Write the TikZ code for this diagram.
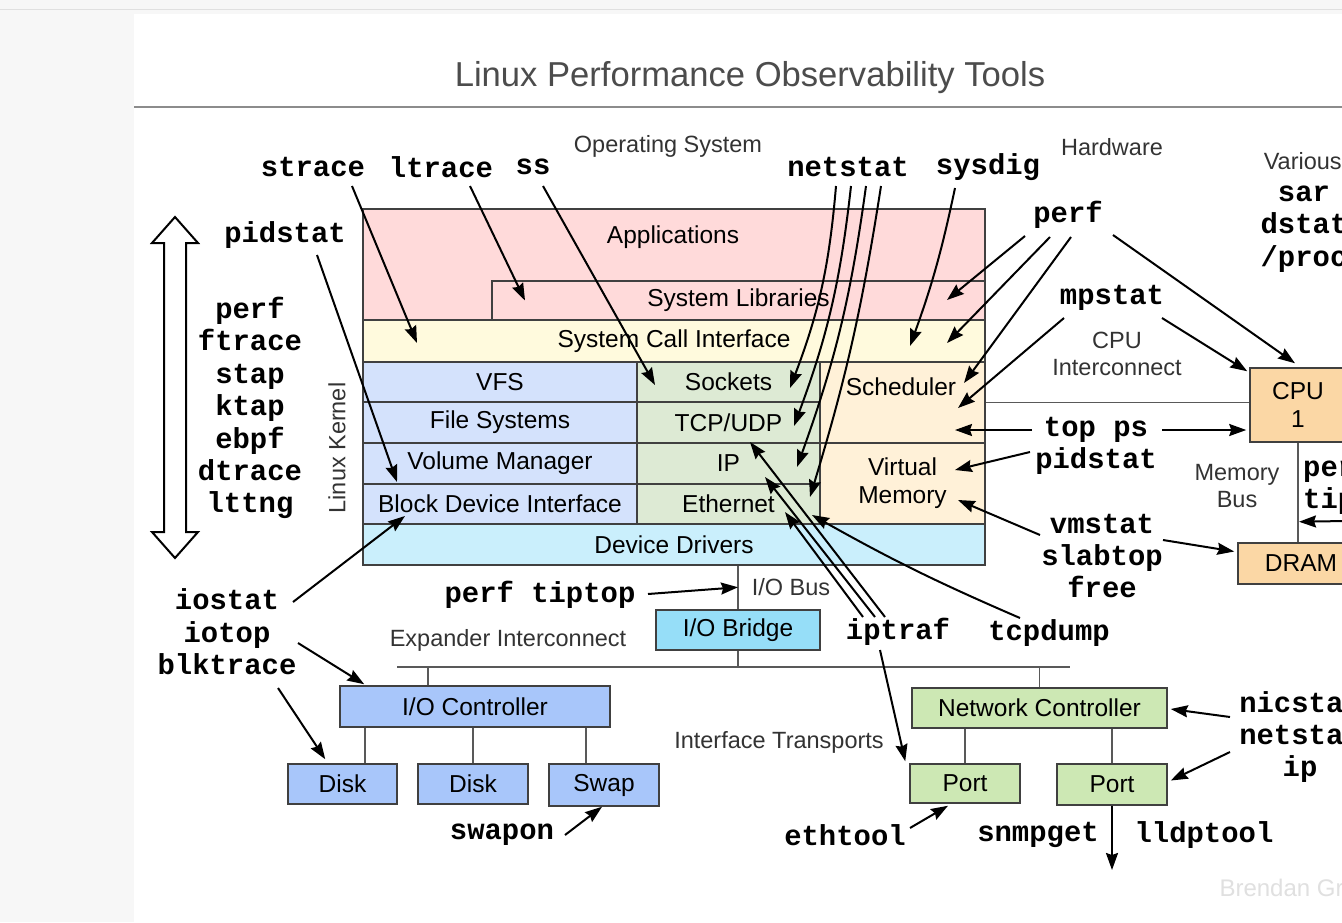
\documentclass[tikz,border=0pt]{standalone}
\usepackage{fontspec}
\setmainfont{Liberation Sans}
\setsansfont{Liberation Sans}
\setmonofont{Liberation Mono}
\usetikzlibrary{arrows.meta}
\definecolor{appcol}{HTML}{FFDADA}
\definecolor{scicol}{HTML}{FFFADD}
\definecolor{fscol}{HTML}{D4E2FC}
\definecolor{netkcol}{HTML}{DDEAD4}
\definecolor{cpukcol}{HTML}{FFF1D8}
\definecolor{drvcol}{HTML}{CAEFFC}
\definecolor{bridgecol}{HTML}{96DEF8}
\definecolor{iocol}{HTML}{A8C6FA}
\definecolor{netcol}{HTML}{CDE8B4}
\definecolor{hwcol}{HTML}{FBD7A5}
\newcommand{\toolfont}{\fontsize{28.9}{32.4}\selectfont\ttfamily\bfseries}
\newcommand{\boxfont}{\fontsize{24.5}{28}\selectfont}
\newcommand{\notefont}{\fontsize{23.5}{27}\selectfont}

\begin{document}
\begin{tikzpicture}[x=1pt,y=-1pt,>={Stealth[length=17pt,width=12pt,inset=2pt]},
    layer/.style={draw=black!75,line width=1.5pt,inner sep=0pt,font=\boxfont,align=center},
    boxtxt/.style={font=\boxfont,inner sep=0pt},
    tool/.style={font=\toolfont,inner sep=0pt,align=center},
    note/.style={font=\notefont,text=black!80,inner sep=0pt,align=center},
    arr/.style={->,line width=2pt},
    bus/.style={draw=black!65,line width=1.5pt}]

  \useasboundingbox (0,0) rectangle (1342,922);
  \fill[black!3] (0,0) rectangle (1342,922);
  \fill[white] (134,14) rectangle (1342,922);
  \draw[black!12,line width=1pt] (0,9.5) -- (1342,9.5);
  \draw[black!45,line width=2pt] (134,107) -- (1342,107);

  \node[font=\fontsize{34.6}{40}\selectfont,text=black!70] (title) at (750,78) {Linux Performance Observability Tools};
  \node[note] (os)      at (668,146) {Operating System};
  \node[note] (hw)      at (1112,147) {Hardware};
  \node[note] (various) at (1306,161) {Various:};

  \node[layer,fill=appcol,minimum width=622pt,minimum height=111pt] (apps)   at (674,264.5) {};
  \node[boxtxt] (appstxt) at (673,237) {Applications};
  \node[layer,fill=appcol,minimum width=493pt,minimum height=39pt]  (syslib) at (738.5,300.5) {System Libraries};
  \node[layer,fill=scicol,minimum width=622pt,minimum height=42pt]  (sci)    at (674,341) {System Call Interface};
  \node[layer,fill=fscol,minimum width=274pt,minimum height=40pt]   (vfs)    at (500,382) {VFS};
  \node[layer,fill=fscol,minimum width=274pt,minimum height=41pt]   (fs)     at (500,422.5) {File Systems};
  \node[layer,fill=fscol,minimum width=274pt,minimum height=41pt]   (vol)    at (500,463.5) {Volume Manager};
  \node[layer,fill=fscol,minimum width=274pt,minimum height=40pt]   (bdi)    at (500,504) {Block Device Interface};
  \node[layer,fill=netkcol,minimum width=183pt,minimum height=40pt] (sockets) at (728.5,382) {Sockets};
  \node[layer,fill=netkcol,minimum width=183pt,minimum height=41pt] (tcpudp) at (728.5,422.5) {TCP/UDP};
  \node[layer,fill=netkcol,minimum width=183pt,minimum height=41pt] (ip)     at (728.5,463.5) {IP};
  \node[layer,fill=netkcol,minimum width=183pt,minimum height=40pt] (eth)    at (728.5,504) {Ethernet};
  \node[layer,fill=cpukcol,minimum width=165pt,minimum height=81pt] (sched)  at (902.5,402.5) {};
  \node[boxtxt] (schedtxt) at (901,387) {Scheduler};
  \node[layer,fill=cpukcol,minimum width=165pt,minimum height=81pt] (vm)     at (902.5,483.5) {Virtual\\Memory};
  \node[layer,fill=drvcol,minimum width=622pt,minimum height=41pt]  (dd)     at (674,544.5) {Device Drivers};
  \node[note,rotate=90] (kernel) at (337,448) {Linux Kernel};

  \node[layer,fill=bridgecol,minimum width=164pt,minimum height=40pt] (iobridge) at (738,630) {I/O Bridge};
  \node[layer,fill=iocol,minimum width=270pt,minimum height=41pt]  (ioctl)  at (475,706.5) {I/O Controller};
  \node[layer,fill=iocol,minimum width=109pt,minimum height=40pt]  (disk1)  at (342.5,784) {Disk};
  \node[layer,fill=iocol,minimum width=110pt,minimum height=40pt]  (disk2)  at (473,784) {Disk};
  \node[layer,fill=iocol,minimum width=110pt,minimum height=42pt]  (swap)   at (604,785) {Swap};
  \node[layer,fill=netcol,minimum width=255pt,minimum height=40pt] (netctl) at (1039.5,708) {Network Controller};
  \node[layer,fill=netcol,minimum width=110pt,minimum height=39pt] (port1)  at (965,783.5) {Port};
  \node[layer,fill=netcol,minimum width=110pt,minimum height=41pt] (port2)  at (1112,784.5) {Port};
  \node[layer,fill=hwcol,minimum width=96pt,minimum height=74pt]   (cpu)    at (1298,405) {CPU\\1};
  \node[layer,fill=hwcol,minimum width=126pt,minimum height=41pt]  (dram)   at (1301,563.5) {DRAM};

  \node[note] (cpuic)      at (1117,354) {CPU\\Interconnect};
  \node[note] (membus)     at (1237,486.5) {Memory\\Bus};
  \node[note] (iobus)      at (791,587) {I/O Bus};
  \node[note] (expander)   at (508,640) {Expander Interconnect};
  \node[note] (transports) at (779,742) {Interface Transports};

  \coordinate (xl) at (397,667);
  \coordinate (xr) at (1070,667);
  \coordinate (lldp) at (1112,870);
  \draw[bus] (sched.east) -- (sched.east -| cpu.west);
  \draw[bus] (cpu.south) -- (cpu.south |- dram.north);
  \draw[bus] (dd.south -| iobridge.north) -- (iobridge.north);
  \draw[bus] (iobridge.south) -- (iobridge.south |- xl);
  \draw[bus] (xl) -- (xr);
  \draw[bus] ([xshift=-47pt]ioctl.north) -- ([xshift=-47pt]ioctl.north |- xl);
  \draw[bus] (netctl.north) -- (netctl.north |- xl);
  \draw[bus] ([xshift=22.5pt]disk1.north) -- ([xshift=22.5pt]disk1.north |- ioctl.south);
  \draw[bus] (disk2.north) -- (disk2.north |- ioctl.south);
  \draw[bus] ([xshift=-18pt]swap.north) -- ([xshift=-18pt]swap.north |- ioctl.south);
  \draw[bus] (port1.north) -- (port1.north |- netctl.south);
  \draw[bus] (port2.north) -- (port2.north |- netctl.south);

  \node[tool] (strace)   at (313,167) {strace};
  \node[tool] (ltrace)   at (441,167) {ltrace};
  \node[tool] (ss)       at (533,167) {ss};
  \node[tool] (netstat)  at (848,167) {netstat};
  \node[tool] (sysdig)   at (988,167) {sysdig};
  \node[tool] (pidstat)  at (285,235) {pidstat};
  \node[tool] (tracers)  at (250,408) {perf\\ftrace\\stap\\ktap\\ebpf\\dtrace\\lttng};
  \node[tool] (perf)     at (1068,215) {perf};
  \node[tool] (mpstat)   at (1112,298) {mpstat};
  \node[tool] (topps)    at (1096,430) {top ps};
  \node[tool] (pidstat2) at (1096,461) {pidstat};
  \node[tool] (vmtools)  at (1102,556) {vmstat\\slabtop\\free};
  \node[tool] (sar)      at (1304,229) {sar\\dstat\\/proc};
  \node[tool,anchor=west,align=left] (memtools) at (1303,485) {perf\\tiptop};
  \node[tool] (iotools)  at (227,632) {iostat\\iotop\\blktrace};
  \node[tool] (perftiptop) at (540,595) {perf tiptop};
  \node[tool] (iptraf)   at (898,632) {iptraf};
  \node[tool] (tcpdump)  at (1049,633) {tcpdump};
  \node[tool] (nictools) at (1300,737) {nicstat\\netstat\\ip};
  \node[tool] (ethtool)  at (845,835) {ethtool};
  \node[tool] (swapon)   at (502,835) {swapon};
  \node[tool] (snmpget)  at (1038,835) {snmpget};
  \node[tool] (lldptool) at (1204,835) {lldptool};
  \node[font=\fontsize{24}{28}\selectfont,text=black!12,anchor=west] (brendan) at (1216,890) {Brendan Gregg};

  \draw[line width=2pt,fill=white] (175,217) -- (198,243) -- (186,243) -- (186,532) -- (198,532)
    -- (175,558) -- (152,532) -- (164,532) -- (164,243) -- (152,243) -- cycle;

  \draw[arr] ([shift={(39,19)}]strace.center) -- ([shift={(-257,2)}]sci.center);
  \draw[arr] ([shift={(29,19)}]ltrace.center) -- ([shift={(-213.5,0)}]syslib.center);
  \draw[arr] ([shift={(10,19)}]ss.center) -- ([shift={(-73.5,3)}]sockets.center);
  \draw[arr] ([shift={(-12,19)}]netstat.center) to[bend left=8] ([shift={(61.5,6)}]sockets.center);
  \draw[arr] ([shift={(3,19)}]netstat.center) to[bend left=7] ([shift={(65.5,3.5)}]tcpudp.center);
  \draw[arr] ([shift={(18,19)}]netstat.center) to[bend left=6] ([shift={(68.5,3.5)}]ip.center);
  \draw[arr] ([shift={(33,19)}]netstat.center) to[bend left=4] ([shift={(81.5,-7)}]eth.center);
  \draw[arr] ([shift={(-33,21)}]sysdig.center) to[bend left=4] ([shift={(236,5)}]sci.center);
  \draw[arr] ([shift={(32,20)}]pidstat.center) -- ([shift={(-103,18.5)}]vol.center);

  \draw[arr] ([shift={(-43,21)}]perf.center) -- ([shift={(208.5,-0.5)}]syslib.center);
  \draw[arr] ([shift={(-18,22)}]perf.center) -- ([shift={(273,2)}]sci.center);
  \draw[arr] ([shift={(3,22)}]perf.center) -- ([shift={(61.5,-19.5)}]sched.center);
  \draw[arr] ([shift={(45,20)}]perf.center) -- ([shift={(-3,-4)}]cpu.north);
  \draw[arr] ([shift={(-48,20)}]mpstat.center) -- ([shift={(55.5,5.5)}]sched.center);
  \draw[arr] ([shift={(50,20)}]mpstat.center) -- ([shift={(-2,4)}]cpu.north west);
  \draw[arr] ([shift={(-64,0)}]topps.center) -- ([shift={(52.5,27.5)}]sched.center);
  \draw[arr] ([shift={(66,0)}]topps.center) -- ([shift={(-3,25)}]cpu.west);
  \draw[arr] ([shift={(-66,-9)}]pidstat2.center) -- ([shift={(52.5,-13.5)}]vm.center);
  \draw[arr] ([shift={(-62,-21)}]vmtools.center) -- ([shift={(55.5,16.5)}]vm.center);
  \draw[arr] ([shift={(61,-16)}]vmtools.center) -- ([shift={(-3,-12)}]dram.west);
  \draw[arr] ([shift={(42,36)}]memtools.west) -- ([shift={(1,79)}]cpu.south);

  \draw[arr] ([shift={(66,-30)}]iotools.center) -- ([shift={(-95,12)}]bdi.center);
  \draw[arr] ([shift={(71,11)}]iotools.center) -- ([shift={(25,-1)}]ioctl.north west);
  \draw[arr] ([shift={(51,56)}]iotools.center) -- ([shift={(38,-4)}]disk1.north west);
  \draw[arr] ([shift={(108,-1)}]perftiptop.center) -- ([shift={(0,-22)}]iobridge.north);
  \draw[arr] ([shift={(63,0)}]swapon.center) -- ([shift={(-2,0)}]swap.south);

  \draw[arr] ([shift={(-35,-15)}]iptraf.center) -- ([shift={(56.5,8)}]eth.center);
  \draw[arr] ([shift={(-23,-15)}]iptraf.center) -- ([shift={(36.5,13.5)}]ip.center);
  \draw[arr] ([shift={(-13,-15)}]iptraf.center) -- ([shift={(21.5,19.5)}]tcpudp.center);
  \draw[arr] ([shift={(-18,18)}]iptraf.center) -- ([shift={(-4,-2)}]port1.north west);
  \draw[arr] ([shift={(-29,-15)}]tcpdump.center) to[bend left=3] ([shift={(83.5,11)}]eth.center);
  \draw[arr] ([shift={(-70,-20)}]nictools.center) -- ([shift={(3,1)}]netctl.east);
  \draw[arr] ([shift={(-70,15)}]nictools.center) -- ([shift={(3,-4)}]port2.east);
  \draw[arr] ([shift={(65,-7)}]ethtool.center) -- ([shift={(-17,2)}]port1.south);
  \draw[arr] (port2.south) -- (lldp);
\end{tikzpicture}
\end{document}
